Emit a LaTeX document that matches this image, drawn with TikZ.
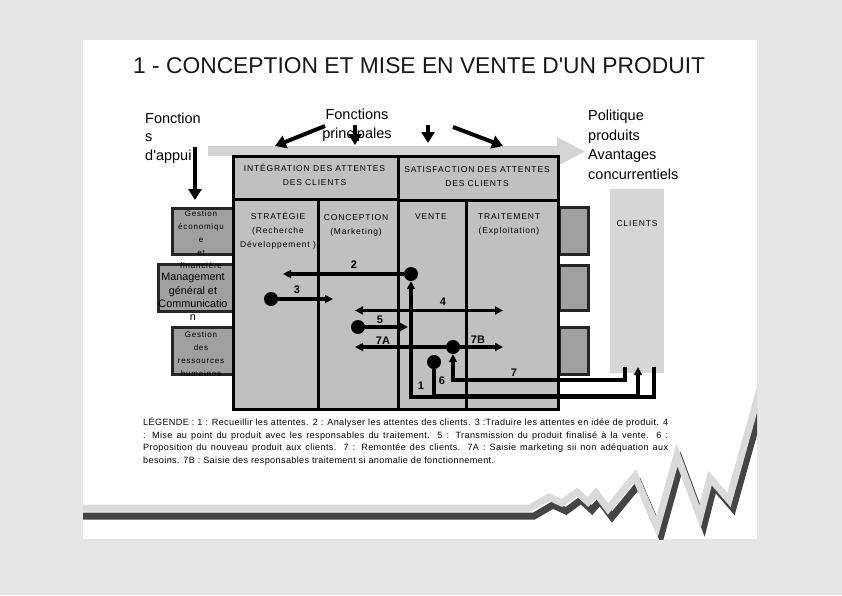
\documentclass[tikz,border=0pt]{standalone}
\usepackage{fontspec}
\setmainfont{Liberation Sans}[Ligatures=TeXOff]
\newfontfamily\spaced[LetterSpace=10]{Liberation Sans}
\newfontfamily\legendfont[LetterSpace=4]{Liberation Sans}
\usetikzlibrary{arrows.meta,positioning}

\definecolor{pagegray}{HTML}{E6E6E6}
\definecolor{bandgray}{HTML}{D4D4D4}
\definecolor{cellgray}{HTML}{C0C0C0}
\definecolor{sidegray}{HTML}{A0A0A0}
\definecolor{clientgray}{HTML}{D6D6D6}
\definecolor{ridgegray}{HTML}{DADADA}
\definecolor{shadowgray}{HTML}{444444}

\tikzset{
  cell/.style={draw=black, line width=2.6pt, fill=cellgray, inner sep=0pt, anchor=north west},
  sidebox/.style={draw=black!85, line width=2.6pt, fill=sidegray, inner sep=0pt, anchor=north west},
  flow/.style={line width=3.2pt, -{Triangle[length=8pt,width=8pt]}},
  bothflow/.style={line width=3.2pt, {Triangle[length=8pt,width=8pt]}-{Triangle[length=8pt,width=8pt]}},
  topflow/.style={line width=4pt, -{Triangle[length=11pt,width=13pt]}},
  dot/.style={circle, fill=black, inner sep=0pt, minimum size=14pt},
  num/.style={font=\fontsize{11}{11}\selectfont\bfseries, inner sep=0pt},
  colhead/.style={font=\spaced\fontsize{8.5}{14}\selectfont, align=center, inner sep=0pt},
  sidetext/.style={font=\spaced\fontsize{8}{13}\selectfont, align=center, inner sep=0pt},
  bigtext/.style={font=\fontsize{14.5}{18.5}\selectfont, align=left, inner sep=0pt},
}

\begin{document}
\begin{tikzpicture}[x=1pt, y=-1pt]
% Background and page
\useasboundingbox (0,0) rectangle (842,595);
\fill[pagegray] (0,0) rectangle (842,595);
\fill[white] (83,40) rectangle (757,539);

% Zigzag ribbon
\begin{scope}
  \clip (83,40) rectangle (757,539);
  \draw[shadowgray, line width=7pt, shift={(4,8)}] plot coordinates {(60,508) (530,508) (549,497) (562,503) (577,492) (588,502) (596,493) (608,509) (635,476) (657,527) (677,455) (700,517) (710,478) (729,500) (760,389)};
  \draw[ridgegray, line width=7pt] plot coordinates {(60,508) (530,508) (549,497) (562,503) (577,492) (588,502) (596,493) (608,509) (635,476) (657,527) (677,455) (700,517) (710,478) (729,500) (760,389)};
\end{scope}

% Title
\node[anchor=base west, inner sep=0pt, font=\fontsize{22.8}{23}\selectfont, text=black!90] (title) at (133,73) {1 - CONCEPTION ET MISE EN VENTE D'UN PRODUIT};

% Big grey arrow
\fill[bandgray] (208,146) -- (557,146) -- (557,137) -- (585,151.5) -- (557,166) -- (557,156) -- (208,156) -- cycle;

% Side boxes
\node[sidebox, minimum width=61pt, minimum height=46pt] (lEco) at (171,207) {};
\node[sidebox, minimum width=75pt, minimum height=47pt] (lMgmt) at (157,263) {};
\node[sidebox, minimum width=61pt, minimum height=47pt] (lRH) at (171,326) {};
\node[sidebox, minimum width=29pt, minimum height=47pt] (rEco) at (558,206) {};
\node[sidebox, minimum width=29pt, minimum height=45pt] (rMgmt) at (558,264) {};
\node[sidebox, minimum width=29pt, minimum height=47pt] (rRH) at (558,326) {};

% Table
\node[cell, minimum width=165pt, minimum height=43pt] (integ) at (232,155) {};
\node[cell, minimum width=160pt, minimum height=44pt] (satis) at (397,155) {};
\node[cell, minimum width=85pt, minimum height=210pt] (strat) at (232,198) {};
\node[cell, minimum width=80pt, minimum height=210pt] (concep) at (317,198) {};
\node[cell, minimum width=68pt, minimum height=209pt] (vente) at (397,199) {};
\node[cell, minimum width=92pt, minimum height=209pt] (trait) at (465,199) {};

% Clients
\node[fill=clientgray, inner sep=0pt, anchor=north west, minimum width=54pt, minimum height=184pt] (clients) at (610,189) {};

% Headings
\node[colhead] (integlab) at (314.5,175) {INTÉGRATION DES ATTENTES\\DES CLIENTS};
\node[colhead] (satislab) at (477,177) {SATISFACTION DES ATTENTES\\DES CLIENTS};
\node[colhead] (stratlab) at (278,231) {STRATÉGIE\\(Recherche\\Développement )};
\node[colhead] (conceplab) at (356,225) {CONCEPTION\\(Marketing)};
\node[colhead] (ventelab) at (431,217) {VENTE};
\node[colhead] (traitlab) at (509,224) {TRAITEMENT\\(Exploitation)};
\node[colhead] (clientslab) at (637,224) {CLIENTS};

% Side texts
\node[sidetext] (lEcolab) at (201,240) {Gestion\\économiqu\\e\\et\\financière};
\node[font=\fontsize{10.8}{13.3}\selectfont, align=center, inner sep=0pt] (lMgmtlab) at (193,297) {Management\\général et\\Communicatio\\n};
\node[sidetext] (lRHlab) at (201,354) {Gestion\\des\\ressources\\humaines};

% Outer texts
\node[bigtext, anchor=west] (appui) at (145,138) {Fonction\\s\\d'appui};
\node[bigtext, align=center] (princ) at (357,125) {Fonctions\\principales};
\node[bigtext, anchor=west, font=\fontsize{14.5}{19.5}\selectfont] (polit) at (588,145) {Politique\\produits\\Avantages\\concurrentiels};

% Top arrows
\coordinate (ap1) at (195,147); \coordinate (ap2) at (195,200);
\coordinate (fa1) at (325,126); \coordinate (fb1) at (275,146);
\coordinate (fa2) at (355,125); \coordinate (fb2) at (355,145);
\coordinate (fa3) at (428,125); \coordinate (fb3) at (428,143);
\coordinate (fa4) at (453,127); \coordinate (fb4) at (503,146);
\draw[topflow] (ap1) -- (ap2);
\draw[topflow] (fa1) -- (fb1);
\draw[topflow] (fa2) -- (fb2);
\draw[topflow] (fa3) -- (fb3);
\draw[topflow] (fa4) -- (fb4);

% Flows
\node[dot] (d2) at (411,274) {};
\node[dot] (d3) at (271,299) {};
\node[dot] (d5) at (358,327) {};
\node[dot] (d7) at (453,347) {};
\node[dot] (d6) at (434,362) {};
\coordinate (t2) at (283,274);
\coordinate (t3) at (333,299);
\coordinate (t4a) at (355,310.5); \coordinate (t4b) at (503,310.5);
\coordinate (t5) at (408,327);
\coordinate (t7a) at (355,347); \coordinate (t7b) at (503,347);
\coordinate (c1) at (654,367);
\coordinate (c6) at (638,367);
\coordinate (c7) at (625,367);
\draw[flow] (d2) -- (t2);
\draw[flow] (d3) -- (t3);
\draw[bothflow] (t4a) -- (t4b);
\draw[flow] (d5) -- (t5);
\draw[flow] (d7) -- (t7a);
\draw[flow] (d7) -- (t7b);
\draw[flow] (c1) -- ++(0,30) -| (d2.south);
\draw[flow] (d6.south) -- ++(0,26) -| (c6);
\draw[flow] (c7) -- ++(0,13) -| (d7.south);

% Numbers
\node[num] (n1) at (421,386) {1};
\node[num] (n2) at (354,265) {2};
\node[num] (n3) at (297,290) {3};
\node[num] (n4) at (443,302) {4};
\node[num] (n5) at (380,320) {5};
\node[num] (n6) at (442,381) {6};
\node[num] (n7) at (514,373) {7};
\node[num] (n7a) at (383,341) {7A};
\node[num] (n7b) at (478,340) {7B};

% Legend
\node[anchor=base west, inner sep=0pt, text width=525pt, align=justify, font=\legendfont\fontsize{9.1}{12.7}\selectfont] (legend) at (143,425.5) {LÉGENDE : 1 : Recueillir les attentes. 2 : Analyser les attentes des clients. 3 :Traduire les attentes en idée de produit. 4\linebreak : Mise au point du produit avec les responsables du traitement. 5 : Transmission du produit finalisé à la vente. 6 :\linebreak Proposition du nouveau produit aux clients. 7 : Remontée des clients. 7A : Saisie marketing sii non adéquation aux\linebreak besoins. 7B : Saisie des responsables traitement si anomalie de fonctionnement.};
\end{tikzpicture}
\end{document}
